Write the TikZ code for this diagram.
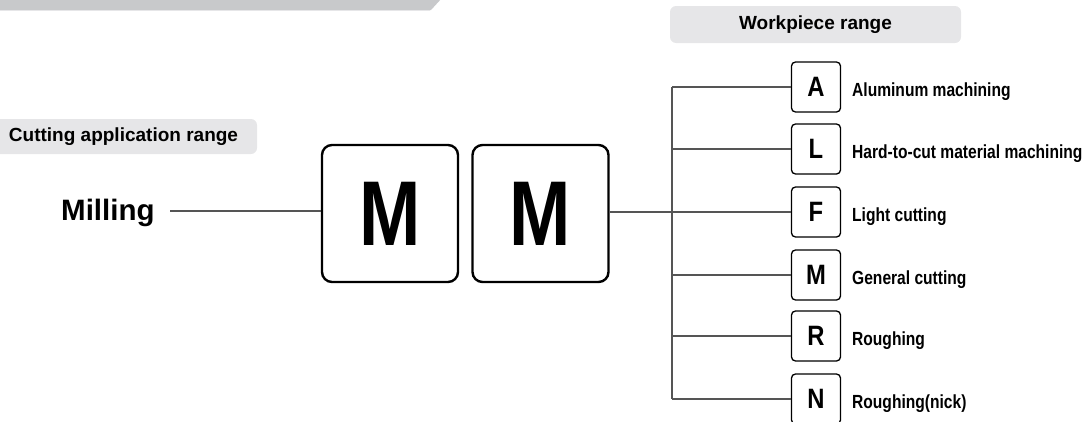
\documentclass[tikz,border=0pt]{standalone}
\usepackage{fontspec}
\setmainfont{Liberation Sans}
\newfontfamily\narrowf[FakeStretch=0.82]{Liberation Sans}
\newfontfamily\bigf[FakeStretch=0.8]{Liberation Sans}
\newfontfamily\letf[FakeStretch=0.85]{Liberation Sans}
\definecolor{bargray}{HTML}{C8C9CB}
\definecolor{hdrgray}{HTML}{E6E6E8}
\definecolor{linegray}{HTML}{555555}
\tikzset{
  hdr/.style={fill=hdrgray, rounded corners=6pt, inner sep=0pt,
    font=\bfseries\fontsize{19}{19}\selectfont},
  bigbox/.style={draw=black, line width=2.4pt, rounded corners=10pt, fill=white,
    minimum width=136pt, minimum height=137pt, inner sep=0pt,
    font=\bigf\bfseries\fontsize{92}{92}\selectfont},
  letterbox/.style={draw=black, line width=1.3pt, rounded corners=4pt, fill=white,
    minimum width=49pt, minimum height=50pt, inner sep=0pt,
    font=\letf\bfseries\fontsize{28}{28}\selectfont},
  lbl/.style={anchor=base west, inner sep=0pt,
    font=\narrowf\bfseries\fontsize{19}{19}\selectfont},
  conn/.style={draw=linegray, line width=1.1pt},
}
\begin{document}
\begin{tikzpicture}[x=1pt,y=-1pt]
\useasboundingbox (0,0) rectangle (1090,421);
\clip (0,0) rectangle (1090,421);
% top bar
\fill[bargray] (-2,-2) -- (442,-2) -- (431,10) -- (-2,10) -- cycle;
\draw[hdrgray, line width=1pt] (-2,10.8) -- (430,10.8);
% headers
\node[hdr, minimum width=267pt, minimum height=35pt] (hcut) at (123.5,136.5) {Cutting application range};
\node[hdr, minimum width=291pt, minimum height=37pt] (hwork) at (815.5,24.5) {Workpiece range};
% Milling
\node[anchor=base west, inner sep=0pt, font=\bfseries\fontsize{29.5}{29.5}\selectfont] (mill) at (61,220) {Milling};
\coordinate (millstart) at (170,211);
% big boxes
\node[bigbox] (b1) at (390,213.5) {M};
\node[bigbox] (b2) at (540.5,213.5) {M};
\draw[conn] (millstart) -- (b1.west |- millstart);
% tree
\coordinate (trunktop) at (672,87);
\coordinate (trunkbot) at (672,399);
\coordinate (trunkmid) at (672,212);
\foreach \n/\l/\y/\t in {a/A/87/Aluminum machining, l/L/149/Hard-to-cut material machining,
  f/F/212/Light cutting, m/M/275/General cutting, r/R/336/Roughing, n/N/399/Roughing(nick)}{
  \node[letterbox] (key\n) at (816,\y) {\l};
  \node[lbl] (label\n) at (852,\y+9.5) {\t};
  \coordinate (joint\n) at (672,\y);
  \draw[conn] (joint\n) -- (key\n.west);
}
\draw[conn] (trunktop) -- (trunkbot);
\draw[conn] (b2.east |- trunkmid) -- (trunkmid);
\end{tikzpicture}
\end{document}
